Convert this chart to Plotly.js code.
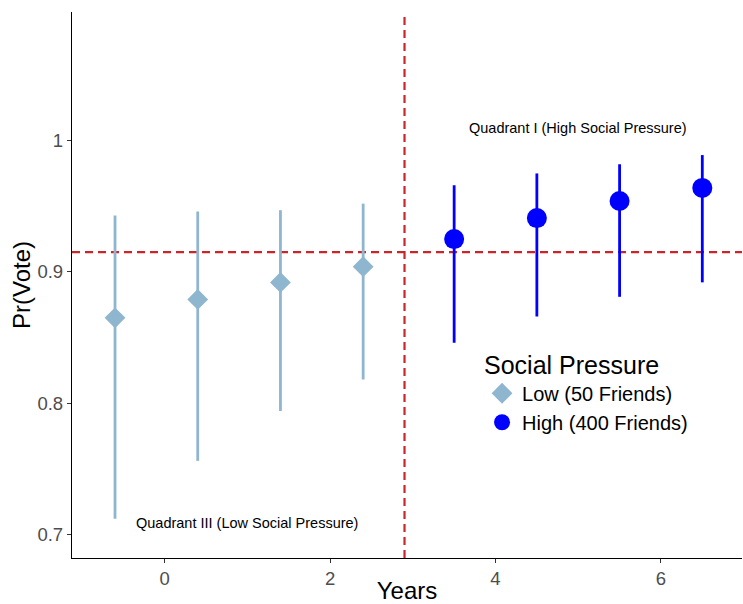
<!DOCTYPE html>
<html>
<head>
<meta charset="utf-8">
<script src="https://cdn.plot.ly/plotly-3.0.1.min.js"></script>
<style>body{margin:0;padding:0;background:#fff}#chart{width:743px;height:604px}</style>
</head>
<body>
<div id="chart"></div>
<script>
// Data
const lowYears = [-0.6, 0.4, 1.4, 2.4];
const lowVote = [0.865, 0.879, 0.892, 0.904];
const lowUpper = [0.943, 0.946, 0.947, 0.952];
const lowLower = [0.712, 0.756, 0.794, 0.818];

const highYears = [3.5, 4.5, 5.5, 6.5];
const highVote = [0.925, 0.941, 0.954, 0.964];
const highUpper = [0.966, 0.975, 0.982, 0.989];
const highLower = [0.846, 0.866, 0.881, 0.892];

const refYear = [2.9];
const refVote = [0.915];

const xTicks = [0, 2, 4, 6];
const yTicks = [0.7, 0.8, 0.9, 1];
const yTickText = ['0.7', '0.8', '0.9', '1'];

const lowColor = '#8fb6cf';
const highColor = '#0000ff';
const refColor = '#c8262b';

function errTrace(x, y, up, lo, name, color, symbol, size) {
  return {
    x: x, y: y, name: name, type: 'scatter', mode: 'markers',
    marker: {color: color, symbol: symbol, size: size},
    error_y: {
      type: 'data', symmetric: false,
      array: up.map((u, i) => u - y[i]),
      arrayminus: lo.map((l, i) => y[i] - l),
      color: color, thickness: 2.8, width: 0
    }
  };
}

const data = [
  errTrace(lowYears, lowVote, lowUpper, lowLower, 'Low (50 Friends)', lowColor, 'diamond', 16),
  errTrace(highYears, highVote, highUpper, highLower, 'High (400 Friends)', highColor, 'circle', 20)
];

const layout = {
  width: 743, height: 604,
  margin: {l: 72, r: 1, t: 12, b: 46},
  paper_bgcolor: '#fff', plot_bgcolor: '#fff',
  font: {family: 'Liberation Sans, Arial, sans-serif', color: '#000'},
  showlegend: true,
  legend: {
    x: 0.612, y: 0.397, xanchor: 'left', yanchor: 'top',
    bgcolor: 'rgba(0,0,0,0)',
    title: {text: 'Social Pressure', font: {size: 25, color: '#000'}},
    font: {size: 20, color: '#000'},
    itemsizing: 'trace', tracegroupgap: 0, itemwidth: 30
  },
  xaxis: {
    range: [-1.12, 6.98], tickvals: xTicks, ticktext: xTicks.map(String),
    showgrid: false, zeroline: false, showline: true, linecolor: '#000', linewidth: 1.2,
    ticks: 'outside', ticklen: 4, tickcolor: '#333', tickwidth: 1,
    tickfont: {size: 18.5, color: '#4d4d4d'},
    title: {text: 'Years', font: {size: 24, color: '#000'}, standoff: 3}
  },
  yaxis: {
    automargin: true,
    range: [0.682, 1.098], tickvals: yTicks, ticktext: yTickText,
    showgrid: false, zeroline: false, showline: true, linecolor: '#000', linewidth: 1.2,
    ticks: 'outside', ticklen: 4, tickcolor: '#333', tickwidth: 1,
    tickfont: {size: 18.5, color: '#4d4d4d'},
    title: {text: 'Pr(Vote)', font: {size: 24, color: '#000'}, standoff: 0}
  },
  shapes: [
    {type: 'line', xref: 'x', yref: 'paper', x0: refYear[0], x1: refYear[0], y0: 0, y1: 1,
     line: {color: refColor, width: 2.2, dash: '8px,5px'}, layer: 'below'},
    {type: 'line', xref: 'paper', yref: 'y', x0: 0, x1: 1, y0: refVote[0], y1: refVote[0],
     line: {color: refColor, width: 2.2, dash: '8px,5px'}, layer: 'below'}
  ],
  annotations: [
    {x: 5.0, y: 1.01, xref: 'x', yref: 'y', text: 'Quadrant I (High Social Pressure)',
     showarrow: false, font: {size: 14.5, color: '#000'}},
    {x: 1.0, y: 0.709, xref: 'x', yref: 'y', text: 'Quadrant III (Low Social Pressure)',
     showarrow: false, font: {size: 14.5, color: '#000'}}
  ]
};

Plotly.newPlot('chart', data, layout, {displayModeBar: false, staticPlot: true});
</script>
</body>
</html>
